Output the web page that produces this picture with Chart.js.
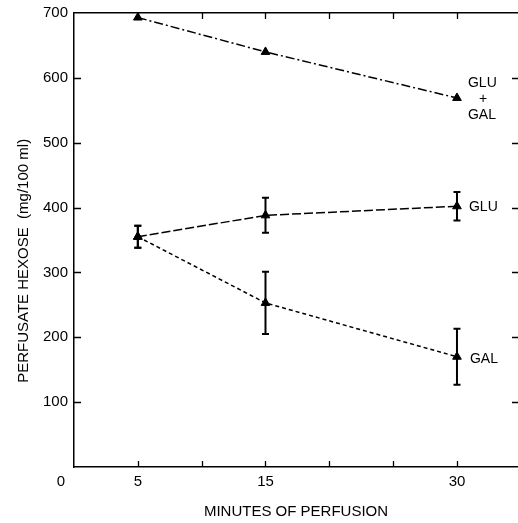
<!DOCTYPE html>
<html>
<head>
<meta charset="utf-8">
<script src="https://cdn.jsdelivr.net/npm/chart.js@4/dist/chart.umd.min.js"></script>
<style>
  html, body { margin: 0; padding: 0; background: #fff; }
  #wrap { width: 518px; height: 523px; position: relative; }
</style>
</head>
<body>
<div id="wrap"><canvas id="c"></canvas></div>
<script>
// ---- data ----
const minutes    = [5, 15, 30];
const gluGal     = [693, 640, 569];
const glu        = [355, 388, 402];
const gluErr     = [17, 27, 22];
const gal        = [355, 253, 170];
const galErr     = [17, 48, 43];
const xTickLabels = [5, 15, 30];
const xTickMarks  = [5, 10, 15, 20, 25, 30];
const yTickMarks  = [100, 200, 300, 400, 500, 600];
const yTickLabels = [100, 200, 300, 400, 500, 600, 700];
const seriesNames = [["GLU", "+", "GAL"], ["GLU"], ["GAL"]];
const xTitle = "MINUTES OF PERFUSION";
const yTitle = "PERFUSATE HEXOSE  (mg/100 ml)";
const originLabel = "0";

const FONT = "'Liberation Sans', Arial, Helvetica, sans-serif";
const pts = (ys) => minutes.map((m, i) => ({ x: m, y: ys[i] }));

const extras = {
  id: 'extras',
  afterDatasetsDraw(chart) {
    const { ctx, chartArea: a, scales: { x, y } } = chart;
    ctx.save();
    ctx.strokeStyle = '#000';
    ctx.fillStyle = '#000';
    // inward tick marks
    ctx.lineWidth = 1.3;
    ctx.beginPath();
    xTickMarks.forEach(v => {
      const px = Math.round(x.getPixelForValue(v)) + 0.5;
      ctx.moveTo(px, a.bottom); ctx.lineTo(px, a.bottom - 6);
      ctx.moveTo(px, a.top); ctx.lineTo(px, a.top + 6);
    });
    yTickMarks.forEach(v => {
      const py = Math.round(y.getPixelForValue(v)) + 0.5;
      ctx.moveTo(a.left, py); ctx.lineTo(a.left + 7, py);
      ctx.moveTo(a.right, py); ctx.lineTo(a.right - 6, py);
    });
    ctx.stroke();
    // error bars
    ctx.lineWidth = 2;
    const bars = [[glu, gluErr], [gal, galErr]];
    bars.forEach(([vals, errs]) => {
      minutes.forEach((m, i) => {
        const px = x.getPixelForValue(m);
        const top = y.getPixelForValue(vals[i] + errs[i]);
        const bot = y.getPixelForValue(vals[i] - errs[i]);
        ctx.beginPath();
        ctx.moveTo(px, top); ctx.lineTo(px, bot);
        ctx.moveTo(px - 3.5, top); ctx.lineTo(px + 3.5, top);
        ctx.moveTo(px - 3.5, bot); ctx.lineTo(px + 3.5, bot);
        ctx.stroke();
      });
    });
    // series labels next to last point
    ctx.font = "14px " + FONT;
    ctx.textBaseline = 'middle';
    const last = minutes.length - 1;
    const lastX = x.getPixelForValue(minutes[last]);
    const yg = y.getPixelForValue(gluGal[last]);
    ctx.textAlign = 'left';
    ctx.fillText(seriesNames[0][0], lastX + 11, yg - 15);
    ctx.textAlign = 'center';
    ctx.fillText(seriesNames[0][1], lastX + 26, yg + 1);
    ctx.textAlign = 'left';
    ctx.fillText(seriesNames[0][2], lastX + 11, yg + 17);
    ctx.fillText(seriesNames[1][0], lastX + 12, y.getPixelForValue(glu[last]) + 1);
    ctx.fillText(seriesNames[2][0], lastX + 13, y.getPixelForValue(gal[last]) + 2);
    // origin label
    ctx.font = "15px " + FONT;
    ctx.textAlign = 'center';
    ctx.fillText(originLabel, x.getPixelForValue(0) - 13, a.bottom + 15);
    ctx.restore();
  }
};

const common = {
  borderColor: '#000', backgroundColor: '#000',
  pointStyle: 'triangle', pointRadius: 5, pointBorderWidth: 1,
  pointBackgroundColor: '#000', pointBorderColor: '#000',
  borderWidth: 1.5, fill: false, tension: 0
};

const noPadH = s => { s.paddingLeft = 0; s.paddingRight = 0; };
const noPadV = s => { s.paddingTop = 0; s.paddingBottom = 0; };

new Chart(document.getElementById('c'), {
  type: 'line',
  data: {
    datasets: [
      Object.assign({ label: 'GLU + GAL', data: pts(gluGal), borderDash: [9, 3, 2, 3] }, common),
      Object.assign({ label: 'GLU', data: pts(glu), borderDash: [9, 3] }, common),
      Object.assign({ label: 'GAL', data: pts(gal), borderDash: [4, 3] }, common)
    ]
  },
  options: {
    responsive: true,
    maintainAspectRatio: false,
    animation: false,
    layout: { autoPadding: false, padding: { top: 13, right: 0, left: 0, bottom: 0 } },
    plugins: { legend: { display: false }, tooltip: { enabled: false } },
    scales: {
      x: {
        type: 'linear', position: 'bottom', min: 0, max: 34.78,
        afterBuildTicks: s => { s.ticks = xTickLabels.map(v => ({ value: v })); },
        afterFit: s => { s.height = 56; noPadH(s); },
        grid: { display: true, drawOnChartArea: false, drawTicks: false },
        border: { display: true, color: '#000', width: 1.5 },
        ticks: { color: '#000', padding: 6, maxRotation: 0, autoSkip: false, font: { family: FONT, size: 15 } },
        title: { display: true, text: xTitle, color: '#000', padding: { top: 0, bottom: 2 }, font: { family: FONT, size: 15 } }
      },
      x2: {
        type: 'linear', position: 'top', min: 0, max: 34.78,
        afterFit: s => { s.height = 0; noPadH(s); },
        grid: { display: true, drawOnChartArea: false, drawTicks: false },
        border: { display: true, color: '#000', width: 1.5 },
        ticks: { display: false }
      },
      y: {
        type: 'linear', position: 'left', min: 0, max: 700,
        afterBuildTicks: s => { s.ticks = yTickLabels.map(v => ({ value: v })); },
        afterFit: s => { s.width = 74; noPadV(s); },
        grid: { display: true, drawOnChartArea: false, drawTicks: false },
        border: { display: true, color: '#000', width: 1.5 },
        ticks: { color: '#000', padding: 6, autoSkip: false, font: { family: FONT, size: 15 } },
        title: { display: true, text: yTitle + "          ", color: '#000', padding: { top: 15, bottom: 0 }, font: { family: FONT, size: 15 } }
      }
    }
  },
  plugins: [extras]
});
</script>
</body>
</html>
